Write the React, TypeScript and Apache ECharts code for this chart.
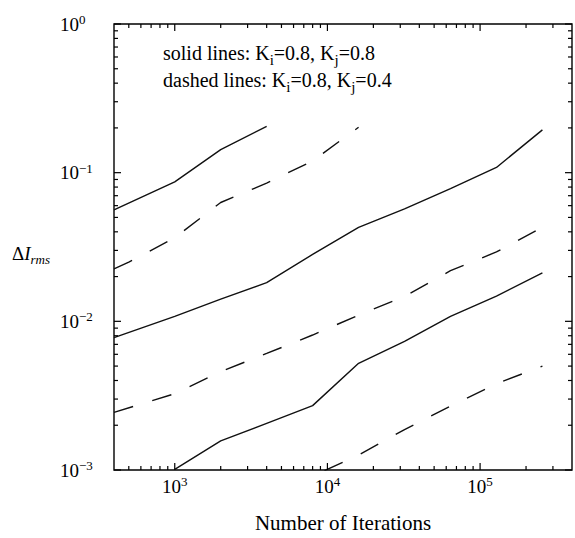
import React, { useEffect, useRef } from "react";
import * as echarts from "echarts";

const FONT = "'Liberation Serif', 'Times New Roman', 'DejaVu Serif', serif";

// ---- data ----
const iterS1 = [400, 1000, 2000, 4000];
const rmsS1 = [0.0561, 0.0867, 0.143, 0.205];

const iterD1 = [400, 500, 1000, 2000, 4000, 8000, 16000];
const rmsD1 = [0.0225, 0.025, 0.0365, 0.063, 0.085, 0.12, 0.202];

const iterS2 = [400, 1000, 2000, 4000, 8000, 16000, 32000, 64000, 128000, 256000];
const rmsS2 = [0.00776, 0.0108, 0.0141, 0.0182, 0.0282, 0.0429, 0.057, 0.0782, 0.1084, 0.194];

const iterD2 = [400, 1000, 2000, 4000, 8000, 16000, 32000, 64000, 128000, 256000];
const rmsD2 = [0.00244, 0.00326, 0.00459, 0.00608, 0.00809, 0.011, 0.0147, 0.0219, 0.0293, 0.0429];

const iterS3 = [1000, 2000, 4000, 8000, 16000, 32000, 64000, 128000, 256000];
const rmsS3 = [0.00101, 0.00157, 0.00206, 0.00271, 0.00522, 0.00734, 0.0108, 0.0148, 0.0212];

const iterD3 = [8000, 16000, 32000, 64000, 128000, 256000];
const rmsD3 = [0.00091, 0.00126, 0.00187, 0.00269, 0.0038, 0.005];

// ---- axes ----
const xMin = 400;
const xMax = 400000;
const yMin = 0.001;
const yMax = 1;
const xMajorTicks = [1000, 10000, 100000];
const xMinorTicks = [
  500, 600, 700, 800, 900,
  2000, 3000, 4000, 5000, 6000, 7000, 8000, 9000,
  20000, 30000, 40000, 50000, 60000, 70000, 80000, 90000,
  200000, 300000,
];
const yMajorTicks = [0.001, 0.01, 0.1, 1];
const yMinorTicks = [
  0.002, 0.003, 0.004, 0.005, 0.006, 0.007, 0.008, 0.009,
  0.02, 0.03, 0.04, 0.05, 0.06, 0.07, 0.08, 0.09,
  0.2, 0.3, 0.4, 0.5, 0.6, 0.7, 0.8, 0.9,
];

const xTitle = "Number of Iterations";
const legendSolid = ["solid lines: K", "i", "=0.8, K", "j", "=0.8"];
const legendDashed = ["dashed lines: K", "i", "=0.8, K", "j", "=0.4"];

function pairs(xs: number[], ys: number[]) {
  return xs.map((x, i) => [x, ys[i]]);
}

function powLabel(v: number) {
  const e = Math.log10(v);
  const r = Math.round(e);
  if (Math.abs(e - r) > 1e-6) return "";
  const exp = r < 0 ? "\u2212" + -r : String(r);
  return `{b|10}{s|${exp}}`;
}

const labelRich = {
  b: { fontFamily: FONT, fontSize: 19, lineHeight: 22, color: "#000" },
  s: { fontFamily: FONT, fontSize: 13, lineHeight: 13, color: "#000", verticalAlign: "top" },
};

function tickSeries(items: number[][], axis: "x" | "y") {
  return {
    type: "custom",
    coordinateSystem: "cartesian2d",
    silent: true,
    clip: false,
    z: 5,
    data: items,
    renderItem: (params: any, api: any) => {
      const cs = params.coordSys;
      const len = api.value(2);
      const style = { stroke: "#000", lineWidth: 1.2 };
      const p = api.coord([api.value(0), api.value(1)]);
      if (axis === "x") {
        const px = p[0];
        return {
          type: "group",
          children: [
            { type: "line", shape: { x1: px, y1: cs.y + cs.height, x2: px, y2: cs.y + cs.height - len }, style },
            { type: "line", shape: { x1: px, y1: cs.y, x2: px, y2: cs.y + len }, style },
          ],
        };
      }
      const py = p[1];
      return {
        type: "group",
        children: [
          { type: "line", shape: { x1: cs.x, y1: py, x2: cs.x + len, y2: py }, style },
          { type: "line", shape: { x1: cs.x + cs.width, y1: py, x2: cs.x + cs.width - len, y2: py }, style },
        ],
      };
    },
  };
}

function lineSeries(xs: number[], ys: number[], dashed: boolean, dashOffset = 0) {
  return {
    type: "line",
    symbol: "none",
    silent: true,
    clip: true,
    data: pairs(xs, ys),
    lineStyle: {
      color: "#111",
      width: 1.4,
      type: dashed ? [20, 20] : "solid",
      dashOffset,
    },
  };
}

function legendText(parts: string[]) {
  return parts
    .map((t, i) => (i % 2 === 1 ? `{s|${t}}` : `{n|${t}}`))
    .join("");
}

const legendRich = {
  n: { fontFamily: FONT, fontSize: 20, lineHeight: 28, fill: "#000" },
  s: { fontFamily: FONT, fontSize: 15, lineHeight: 15, fill: "#000", verticalAlign: "bottom" },
};

export default function App() {
  const ref = useRef<HTMLDivElement>(null);

  useEffect(() => {
    const chart = echarts.init(ref.current!, null, { renderer: "svg" });
    const xTickItems = [
      ...xMajorTicks.map((v) => [v, 0.01, 7]),
      ...xMinorTicks.map((v) => [v, 0.01, 4]),
    ];
    const yTickItems = [
      ...yMajorTicks.map((v) => [1000, v, 7]),
      ...yMinorTicks.map((v) => [1000, v, 4]),
    ];

    const option: any = {
      animation: false,
      backgroundColor: "#fff",
      grid: {
        left: 114,
        top: 24,
        width: 462,
        height: 454,
        show: true,
        borderColor: "#000",
        borderWidth: 1.4,
        backgroundColor: "transparent",
      },
      xAxis: {
        type: "log",
        logBase: 10,
        min: xMin,
        max: xMax,
        name: xTitle,
        nameLocation: "middle",
        nameGap: 42,
        nameTextStyle: { fontFamily: FONT, fontSize: 21, color: "#000" },
        axisLine: { show: false },
        axisTick: { show: false },
        splitLine: { show: false },
        minorTick: { show: false },
        axisLabel: {
          margin: 5,
          formatter: powLabel,
          rich: labelRich,
        },
      },
      yAxis: {
        type: "log",
        logBase: 10,
        min: yMin,
        max: yMax,
        axisLine: { show: false },
        axisTick: { show: false },
        splitLine: { show: false },
        axisLabel: {
          margin: 54,
          align: "left",
          formatter: powLabel,
          rich: labelRich,
        },
      },
      graphic: [
        {
          type: "text",
          x: 12,
          y: 253,
          style: {
            text: "{d|\u0394}{i|I}{r|rms}",
            verticalAlign: "middle",
            align: "left",
            rich: {
              d: { fontFamily: FONT, fontSize: 19, lineHeight: 26, fill: "#000" },
              i: { fontFamily: FONT, fontSize: 19, fontStyle: "italic", lineHeight: 26, fill: "#000" },
              r: { fontFamily: FONT, fontSize: 13, fontStyle: "italic", lineHeight: 12, fill: "#000", verticalAlign: "bottom" },
            },
          },
        },
        {
          type: "text",
          x: 163,
          y: 53,
          style: { text: legendText(legendSolid), verticalAlign: "middle", align: "left", rich: legendRich },
        },
        {
          type: "text",
          x: 163,
          y: 80,
          style: { text: legendText(legendDashed), verticalAlign: "middle", align: "left", rich: legendRich },
        },
      ],
      series: [
        lineSeries(iterS1, rmsS1, false),
        lineSeries(iterD1, rmsD1, true),
        lineSeries(iterS2, rmsS2, false),
        lineSeries(iterD2, rmsD2, true),
        lineSeries(iterS3, rmsS3, false),
        lineSeries(iterD3, rmsD3, true, 26.7),
        tickSeries(xTickItems, "x"),
        tickSeries(yTickItems, "y"),
      ],
    };
    chart.setOption(option);
    return () => chart.dispose();
  }, []);

  return (
    <div
      ref={ref}
      style={{ position: "absolute", left: 0, top: 0, width: 575, height: 538 }}
    />
  );
}
